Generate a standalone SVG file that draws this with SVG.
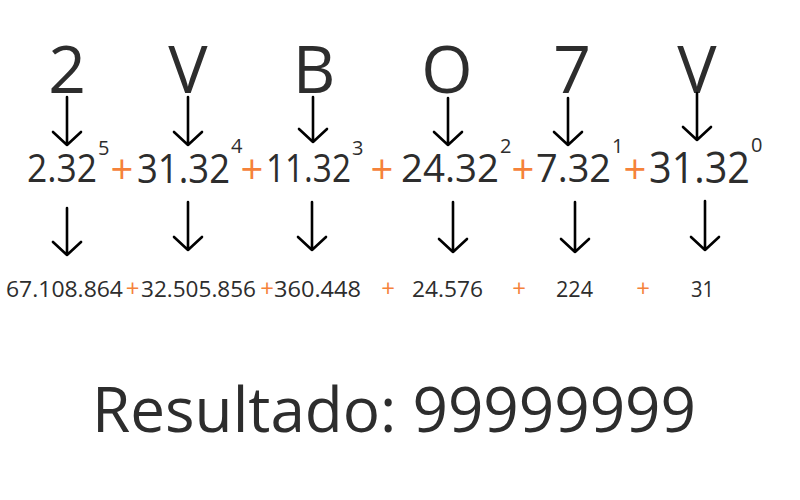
<svg xmlns="http://www.w3.org/2000/svg" width="800" height="500" viewBox="0 0 800 500">
<style>
  text { font-family: "Open Sans", "Noto Sans", "DejaVu Sans", sans-serif; fill: #2d2d2d; }
  .letter { font-size: 66px; text-anchor: middle; }
  .sup { font-size: 20px; }
  .plus { fill: #f5823a; text-anchor: middle; }
  .pbig { font-size: 40px; }
  .psmall { font-size: 24px; }
  .val { font-size: 22px; }
  .arrow { fill: none; stroke: #000; stroke-width: 2.6; stroke-linecap: round; stroke-linejoin: round; }
</style>
<rect width="800" height="500" fill="#fff"/>
<g id="letters">
  <g id="letter-1"><text class="letter" x="67" y="93">2</text></g>
  <g id="letter-2"><text class="letter" x="188" y="93">V</text></g>
  <g id="letter-3"><text class="letter" x="314" y="93">B</text></g>
  <g id="letter-4"><text class="letter" x="447" y="93">O</text></g>
  <g id="letter-5"><text class="letter" x="572" y="93">7</text></g>
  <g id="letter-6"><text class="letter" x="697" y="93">V</text></g>
</g>
<g id="terms">
  <g id="term-1"><text x="27" y="182" font-size="38" textLength="70" lengthAdjust="spacingAndGlyphs">2.32</text><text class="sup" x="98" y="155">5</text></g>
  <g id="term-2"><text x="137" y="183" font-size="41" textLength="93" lengthAdjust="spacingAndGlyphs">31.32</text><text class="sup" x="231" y="153">4</text></g>
  <g id="term-3"><text x="266" y="182" font-size="39" textLength="85" lengthAdjust="spacingAndGlyphs">11.32</text><text class="sup" x="352" y="155">3</text></g>
  <g id="term-4"><text x="401" y="182" font-size="39" textLength="98" lengthAdjust="spacingAndGlyphs">24.32</text><text class="sup" x="500" y="153">2</text></g>
  <g id="term-5"><text x="536" y="182" font-size="39" textLength="75" lengthAdjust="spacingAndGlyphs">7.32</text><text class="sup" x="612" y="153">1</text></g>
  <g id="term-6"><text x="649" y="183" font-size="43" textLength="101" lengthAdjust="spacingAndGlyphs">31.32</text><text class="sup" x="751" y="152">0</text></g>
  <g id="plus-top">
    <text class="plus pbig" x="122" y="184">+</text>
    <text class="plus pbig" x="252" y="184">+</text>
    <text class="plus pbig" x="382" y="184">+</text>
    <text class="plus pbig" x="523" y="184">+</text>
    <text class="plus pbig" x="635" y="184">+</text>
  </g>
</g>
<g id="values">
  <g id="value-1"><text class="val" x="6" y="297" textLength="117" lengthAdjust="spacingAndGlyphs">67.108.864</text></g>
  <g id="value-2"><text class="val" x="141" y="297" textLength="115" lengthAdjust="spacingAndGlyphs">32.505.856</text></g>
  <g id="value-3"><text class="val" x="274" y="297" textLength="87" lengthAdjust="spacingAndGlyphs">360.448</text></g>
  <g id="value-4"><text class="val" x="412" y="297" textLength="71" lengthAdjust="spacingAndGlyphs">24.576</text></g>
  <g id="value-5"><text class="val" x="556" y="297" textLength="37" lengthAdjust="spacingAndGlyphs">224</text></g>
  <g id="value-6"><text class="val" x="691" y="297" textLength="23" lengthAdjust="spacingAndGlyphs">31</text></g>
  <g id="plus-bottom">
    <text class="plus psmall" x="132.5" y="297">+</text>
    <text class="plus psmall" x="267" y="297">+</text>
    <text class="plus psmall" x="388" y="297">+</text>
    <text class="plus psmall" x="519" y="297">+</text>
    <text class="plus psmall" x="643" y="297">+</text>
  </g>
</g>
<g id="result">
  <text x="92" y="432" font-size="62" textLength="604" lengthAdjust="spacingAndGlyphs">Resultado: 99999999</text>
</g>
<g id="connectors">
  <path class="arrow" d="M67 97V145M53 132L67 145L81 132"/>
  <path class="arrow" d="M188 97V145M174 132L188 145L202 132"/>
  <path class="arrow" d="M313 97V142M299 129L313 142L327 129"/>
  <path class="arrow" d="M448 98V145M434 132L448 145L462 132"/>
  <path class="arrow" d="M568 98V145M554 132L568 145L582 132"/>
  <path class="arrow" d="M697 93V140M683 127L697 140L711 127"/>
  <path class="arrow" d="M67 208V255M53 242L67 255L81 242"/>
  <path class="arrow" d="M188 202V250M174 237L188 250L202 237"/>
  <path class="arrow" d="M312 202V250M298 237L312 250L326 237"/>
  <path class="arrow" d="M453 202V252M439 239L453 252L467 239"/>
  <path class="arrow" d="M575 202V252M561 239L575 252L589 239"/>
  <path class="arrow" d="M705 201V250M691 237L705 250L719 237"/>
</g>
</svg>
